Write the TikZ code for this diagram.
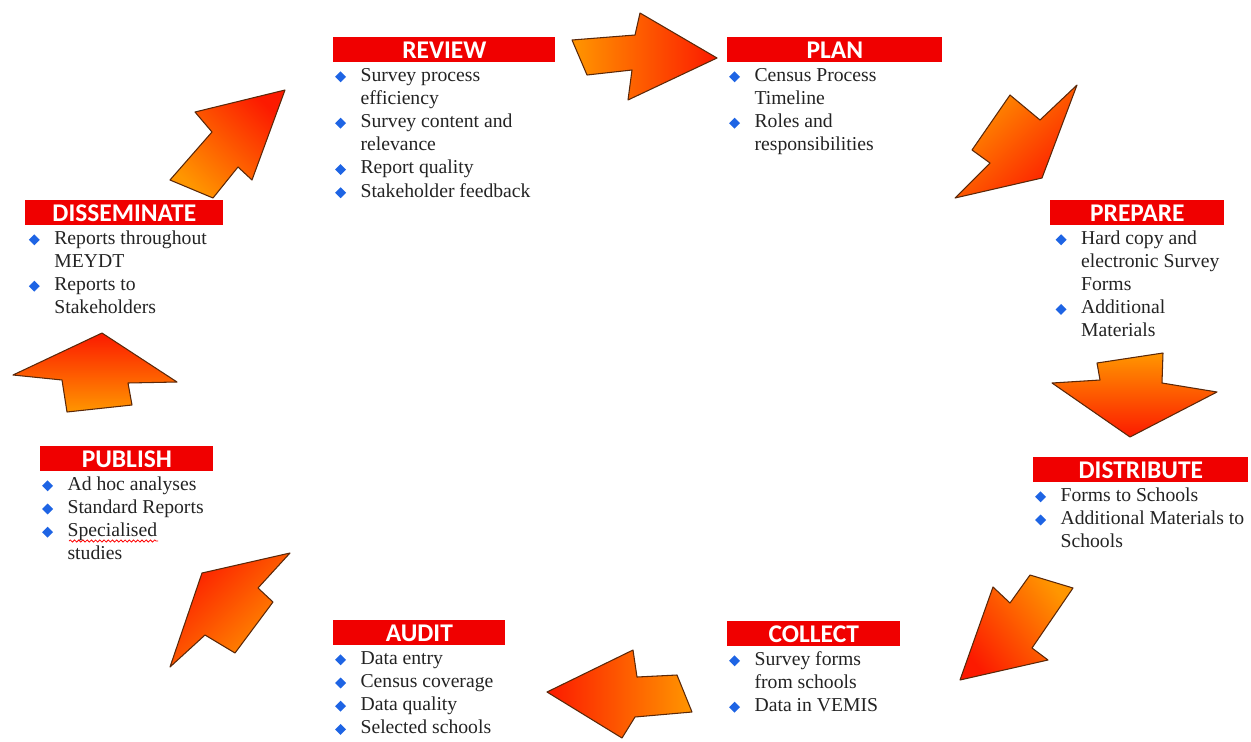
\documentclass[tikz,border=0pt]{standalone}
\usepackage{fontspec}
\setmainfont{Liberation Serif}
\newfontfamily\hdrfont{Carlito}
\usepackage{graphicx}
\usetikzlibrary{positioning,decorations.pathmorphing}

\definecolor{hdrred}{RGB}{240,0,0}
\definecolor{bulblue}{RGB}{30,100,228}
\definecolor{arrorange}{RGB}{255,150,0}
\definecolor{arrred}{RGB}{252,26,0}
\definecolor{arredge}{RGB}{90,40,10}
\definecolor{txtgray}{RGB}{35,35,35}

\newcommand\bitem{\strut\makebox[14.5pt][l]{\textcolor{bulblue}{\raisebox{-0.7pt}{\rotatebox{45}{\rule{4.4pt}{4.4pt}}}}}}
\newcommand\bcont{\strut\hspace*{14.5pt}}

\begin{document}
\begin{tikzpicture}[x=0.02cm, y=-0.02cm,
    hdr/.style={fill=hdrred, text=white, font=\hdrfont\bfseries\fontsize{14.5}{14.5}\selectfont,
      minimum height=0.5cm, inner sep=0pt, anchor=north west},
    items/.style={align=left, inner sep=0pt, text=txtgray, font=\fontsize{11.2}{13.2}\selectfont},
    blockarrow/.style={draw=arredge, line width=0.6pt, line join=round,
      top color=arrred, bottom color=arrorange, shading angle=#1},
    spell/.style={red, line width=0.45pt, decorate, decoration={snake, amplitude=0.6pt, segment length=2.4pt}}]

    \useasboundingbox (0,0) rectangle (1251,741);

    % Headers
    \node[hdr, minimum width=4.44cm] (review) at (333,37) {REVIEW};
    \node[hdr, minimum width=4.30cm] (plan) at (727,37) {PLAN};
    \node[hdr, minimum width=3.48cm] (prepare) at (1050,200) {PREPARE};
    \node[hdr, minimum width=4.30cm] (distribute) at (1033,457) {DISTRIBUTE};
    \node[hdr, minimum width=3.46cm] (collect) at (727,621) {COLLECT};
    \node[hdr, minimum width=3.44cm] (audit) at (333,620) {AUDIT};
    \node[hdr, minimum width=3.46cm] (publish) at (40,446) {PUBLISH};
    \node[hdr, minimum width=3.96cm] (disseminate) at (25,200) {DISSEMINATE};

    % Bullet lists
    \node[items, below right=1pt and 1pt of review.south west] (reviewtxt)
      {\bitem Survey process\\ \bcont efficiency\\ \bitem Survey content and\\ \bcont relevance\\
       \bitem Report quality\\ \bitem Stakeholder feedback};
    \node[items, below right=1pt and 1pt of plan.south west] (plantxt)
      {\bitem Census Process\\ \bcont Timeline\\ \bitem Roles and\\ \bcont responsibilities};
    \node[items, below right=1pt and 3pt of prepare.south west] (preparetxt)
      {\bitem Hard copy and\\ \bcont electronic Survey\\ \bcont Forms\\ \bitem Additional\\ \bcont Materials};
    \node[items, below right=1pt and 1pt of distribute.south west] (distributetxt)
      {\bitem Forms to Schools\\ \bitem Additional Materials to\\ \bcont Schools};
    \node[items, below right=1pt and 1pt of collect.south west] (collecttxt)
      {\bitem Survey forms\\ \bcont from schools\\ \bitem Data in VEMIS};
    \node[items, below right=1pt and 1pt of audit.south west] (audittxt)
      {\bitem Data entry\\ \bitem Census coverage\\ \bitem Data quality\\ \bitem Selected schools};
    \node[items, below right=1pt and 1pt of publish.south west] (publishtxt)
      {\bitem Ad hoc analyses\\ \bitem Standard Reports\\ \bitem Specialised\\ \bcont studies};
    \node[items, below right=1pt and 2pt of disseminate.south west] (disseminatetxt)
      {\bitem Reports throughout\\ \bcont MEYDT\\ \bitem Reports to\\ \bcont Stakeholders};

    % spelling mark under Specialised
    \draw[spell] (69,541) -- (158,541);

    % Arrows
    \draw[blockarrow=-90] (572,40) -- (635,35) -- (640,13) -- (717,58) -- (628,100) -- (632,70) -- (587,75) -- cycle;
    \draw[blockarrow=-137] (1010,95) -- (1040,120) -- (1077,85) -- (1042,178) -- (955,198) -- (990,163) -- (972,150) -- cycle;
    \draw[blockarrow=180] (1097,363) -- (1163,353) -- (1162,383) -- (1217,392) -- (1130,437) -- (1052,383) -- (1100,380) -- cycle;
    \draw[blockarrow=128] (1030,575) -- (1073,588) -- (1032,648) -- (1048,660) -- (960,680) -- (993,587) -- (1010,603) -- cycle;
    \draw[blockarrow=90] (677,675) -- (692,712) -- (635,717) -- (622,738) -- (547,692) -- (633,650) -- (637,677) -- cycle;
    \draw[blockarrow=44] (290,553) -- (202,573) -- (170,667) -- (205,635) -- (235,653) -- (273,602) -- (258,588) -- cycle;
    \draw[blockarrow=0] (102,333) -- (177,382) -- (128,383) -- (132,405) -- (67,412) -- (62,380) -- (13,375) -- cycle;
    \draw[blockarrow=-43] (285,90) -- (195,112) -- (212,132) -- (170,180) -- (213,198) -- (238,167) -- (252,180) -- cycle;
\end{tikzpicture}
\end{document}
